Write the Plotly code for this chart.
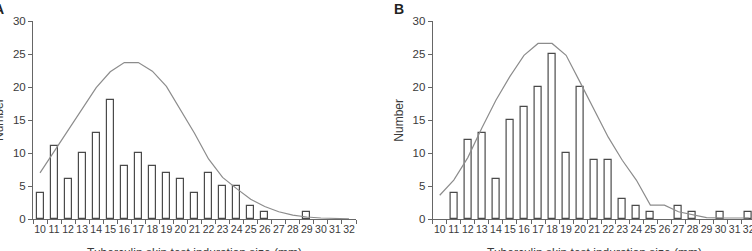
import plotly.graph_objects as go

# ---- data ----
categories = ["10", "11", "12", "13", "14", "15", "16", "17", "18", "19", "20", "21",
              "22", "23", "24", "25", "26", "27", "28", "29", "30", "31", "32"]

bars_a = [4, 11, 6, 10, 13, 18, 8, 10, 8, 7, 6, 4, 7, 5, 5, 2, 1, 0, 0, 1, 0, 0, 0]
curve_a = [7.0, 10.2, 13.4, 16.8, 19.9, 22.3, 23.7, 23.7, 22.4, 20.1, 16.6, 13.0,
           9.1, 6.3, 4.6, 3.0, 1.9, 1.1, 0.6, 0.3, 0.15, 0.08, 0.04]

bars_b = [0, 4, 12, 13, 6, 15, 17, 20, 25, 10, 20, 9, 9, 3, 2, 1, 0, 2, 1, 0, 1, 0, 1]
curve_b = [3.6, 5.9, 9.3, 13.8, 18.0, 21.6, 24.8, 26.6, 26.6, 24.8, 20.7, 16.5,
           12.4, 8.9, 5.9, 2.1, 2.1, 1.1, 0.6, 0.2, 0.15, 0.15, 0.15]

y_ticks = [0, 5, 10, 15, 20, 25, 30]
panel_labels = ["A", "B"]
x_title = "Tuberculin skin test induration size (mm)"
y_title = "Number"

# ---- layout geometry ----
W, H = 752, 251
FONT = "Liberation Sans, Arial, sans-serif"
AX = "#666666"
TXT = "#3a3a3a"
BAR_LINE = "#4a4a4a"
CURVE = "#8c8c8c"

ax_a_left, ax_a_right = 33.0, 356.0
ax_b_left = 432.7
step = (ax_a_right - ax_a_left) / 23.0
b_range_max = -0.5 + (W - ax_b_left) / step
y_top_px, y_bot_px = 21.0, 219.0

fig = go.Figure()

for bars, curve, xa, ya in [(bars_a, curve_a, "x", "y"), (bars_b, curve_b, "x2", "y2")]:
    shown = [v if v > 0 else None for v in bars]  # empty bins draw nothing
    fig.add_trace(go.Bar(
        x=categories, y=shown, width=0.5, xaxis=xa, yaxis=ya,
        marker=dict(color="white", line=dict(color=BAR_LINE, width=1.2)),
        showlegend=False, hoverinfo="skip"))
    fig.add_trace(go.Scatter(
        x=categories, y=curve, mode="lines", xaxis=xa, yaxis=ya,
        line=dict(color=CURVE, width=1.2),
        showlegend=False, hoverinfo="skip"))

ydom = [(H - y_bot_px) / H, (H - y_top_px) / H]

xcommon = dict(type="category", tickson="boundaries", ticks="outside", ticklen=4,
               tickwidth=1, tickcolor=AX, showline=True, linecolor=AX, linewidth=1,
               showgrid=False, zeroline=False, automargin=False, tickangle=0,
               tickfont=dict(family=FONT, size=10.5, color=TXT))
ycommon = dict(range=[0, 30], tickvals=y_ticks, ticks="outside", ticklen=4,
               tickwidth=1, tickcolor=AX, showline=True, linecolor=AX, linewidth=1,
               showgrid=False, zeroline=False, automargin=False,
               tickfont=dict(family=FONT, size=11.5, color=TXT))

fig.update_layout(
    width=W, height=H,
    margin=dict(l=0, r=0, t=0, b=0),
    paper_bgcolor="white", plot_bgcolor="white",
    bargap=0,
    xaxis=dict(domain=[ax_a_left / W, ax_a_right / W], range=[-0.5, 22.5],
               anchor="y", **xcommon),
    yaxis=dict(domain=ydom, anchor="x", **ycommon),
    xaxis2=dict(domain=[ax_b_left / W, 1.0], range=[-0.5, b_range_max],
                anchor="y2", **xcommon),
    yaxis2=dict(domain=ydom, anchor="x2", **ycommon),
)

annotations = []
for left, right, lab in [(ax_a_left, ax_a_right, panel_labels[0]),
                         (ax_b_left, ax_b_left + (ax_a_right - ax_a_left), panel_labels[1])]:
    annotations.append(dict(text="<b>" + lab + "</b>", xref="paper", yref="paper",
                            x=(left - 34.2) / W, y=(H - 9.3) / H,
                            xanchor="center", yanchor="middle", showarrow=False,
                            font=dict(family=FONT, size=14, color="#222222")))
    annotations.append(dict(text=y_title, xref="paper", yref="paper",
                            x=(left - 34.0) / W, y=(H - 120) / H, textangle=-90,
                            xanchor="center", yanchor="middle", showarrow=False,
                            font=dict(family=FONT, size=12, color=TXT)))
    annotations.append(dict(text=x_title, xref="paper", yref="paper",
                            x=((left + right) / 2) / W, y=(H - 252.5) / H,
                            xanchor="center", yanchor="middle", showarrow=False,
                            font=dict(family=FONT, size=12, color=TXT)))

fig.update_layout(annotations=annotations)
fig.write_html("out.html")
